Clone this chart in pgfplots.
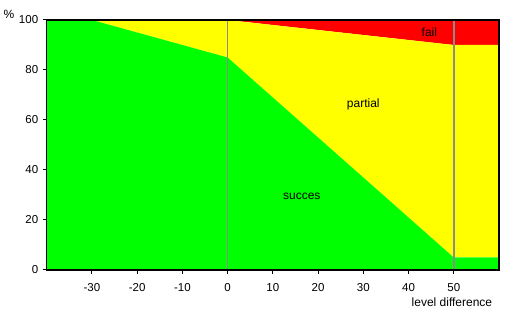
\documentclass[border=0pt]{standalone}
\usepackage{pgfplots}
\pgfplotsset{compat=1.18}
\usepackage{fontspec}
\setmainfont{Liberation Sans}
\definecolor{cgreen}{HTML}{00FF00}
\definecolor{cyellow}{HTML}{FFFF00}
\definecolor{cred}{HTML}{FF0000}
\definecolor{cgray}{HTML}{8C8C8C}
\begin{document}
\begin{tikzpicture}
\begin{axis}[
  at={(0,0)}, anchor=south west,
  scale only axis,
  width=452.3pt, height=250pt,
  xmin=-40, xmax=60, ymin=0, ymax=100,
  xtick={-30,-20,-10,0,10,20,30,40,50},
  ytick={0,20,40,60,80,100},
  tick align=outside,
  major tick length=4pt,
  xtick pos=bottom, ytick pos=left,
  tick style={black, line width=1pt},
  axis line style={black, line width=1.2pt},
  /pgf/number format/assume math mode=true,
  tick label style={font=\fontsize{11.5}{13}\selectfont},
  xticklabel style={yshift=-6pt},
  yticklabel style={xshift=-1pt},
  stack plots=y,
  axis on top,
  clip=true,
]
\addplot[fill=cgreen, draw=none] coordinates {(-40,100) (-30,100) (0,85) (50,5) (60,5)} \closedcycle;
\addplot[fill=cyellow, draw=none] coordinates {(-40,0) (-30,0) (0,15) (50,85) (60,85)} \closedcycle;
\addplot[fill=cred, draw=none] coordinates {(-40,0) (-30,0) (0,0) (50,10) (60,10)} \closedcycle;
\end{axis}
\begin{axis}[
  at={(0,0)}, anchor=south west,
  scale only axis,
  width=452.3pt, height=250pt,
  xmin=-40, xmax=60, ymin=0, ymax=100,
  hide axis,
]
\addplot[draw=cgray, line width=1.5pt, no marks] coordinates {(0,0) (0,100)};
\addplot[draw=cgray, line width=1.5pt, no marks] coordinates {(50,0) (50,100)};
\node[font=\fontsize{12}{14}\selectfont] at (axis cs:44.6,95) {fail};
\node[font=\fontsize{12}{14}\selectfont] at (axis cs:30,66.4) {partial};
\node[font=\fontsize{12}{14}\selectfont] at (axis cs:16.4,29.3) {succes};
\end{axis}
\draw[black, line width=1.2pt] (0,0) rectangle (452.3pt,250pt);
\node[font=\fontsize{12}{14}\selectfont, anchor=center] at (-37.7pt,256pt) {\%};
\node[font=\fontsize{12}{14}\selectfont, anchor=east] at (449pt,-32.7pt) {level difference};
\path[use as bounding box] (-46.7pt,-43pt) rectangle (475.3pt,270pt);
\end{tikzpicture}
\end{document}
